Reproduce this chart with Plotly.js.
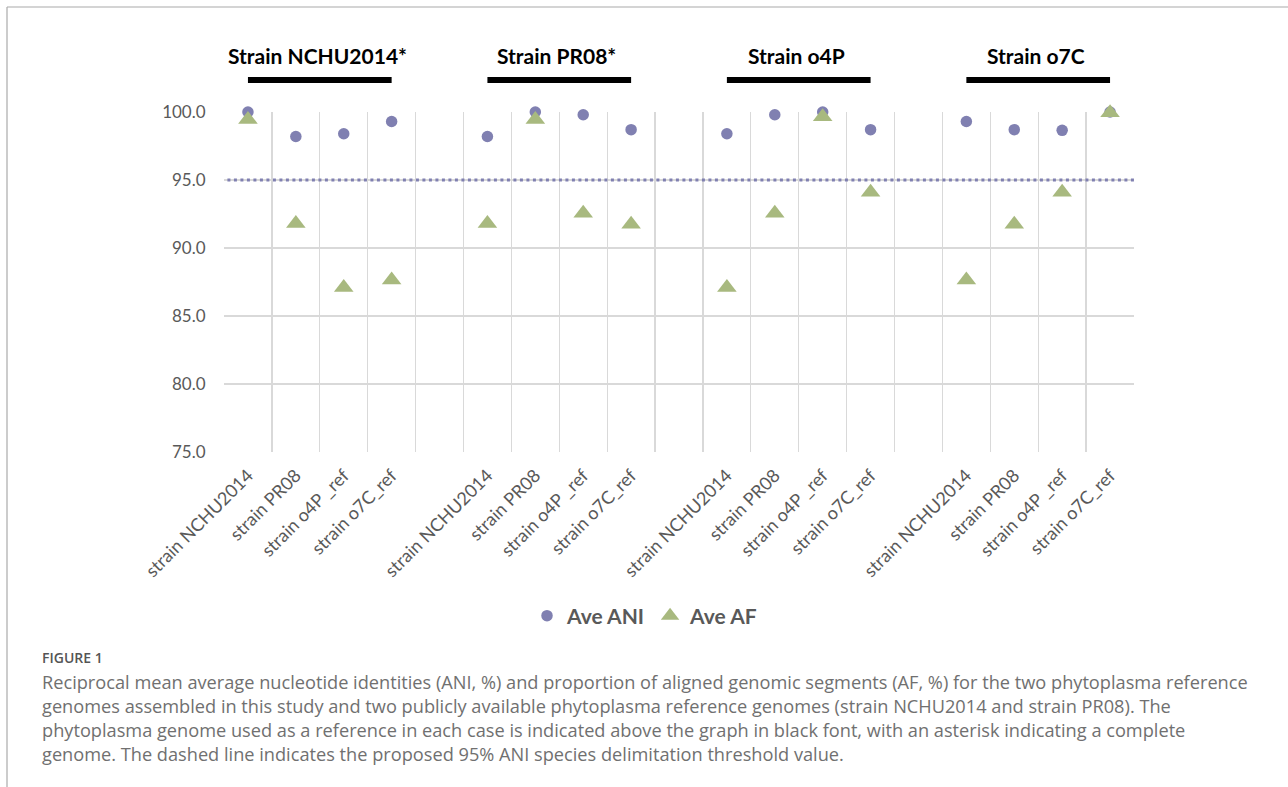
<!DOCTYPE html>
<html>
<head>
<meta charset="utf-8">
<script src="https://cdn.plot.ly/plotly-3.0.1.min.js"></script>
<style>
html,body{margin:0;padding:0;background:#fff;}
#chart{width:1288px;height:787px;}
</style>
</head>
<body>
<div id="chart"></div>
<script>
// Reference genome groups (header above each group)
const groupTitles = ["Strain NCHU2014*", "Strain PR08*", "Strain o4P", "Strain o7C"];
// Query genomes compared within each group
const queryLabels = ["strain NCHU2014", "strain PR08", "strain o4P _ref", "strain o7C_ref"];
// Ave ANI (%) per group, in query order
const aniNCHU = [100.0, 98.2, 98.4, 99.3];
const aniPR08 = [98.2, 100.0, 99.8, 98.7];
const aniO4P  = [98.4, 99.8, 100.0, 98.7];
const aniO7C  = [99.3, 98.7, 98.65, 100.0];
// Ave AF (%) per group, in query order
const afNCHU = [99.45, 91.8, 87.1, 87.65];
const afPR08 = [91.8, 99.45, 92.55, 91.75];
const afO4P  = [87.1, 92.55, 99.65, 94.1];
const afO7C  = [87.65, 91.75, 94.1, 99.95];
const threshold = 95;
const yTicks = [75, 80, 85, 90, 95, 100];

const aniGroups = [aniNCHU, aniPR08, aniO4P, aniO7C];
const afGroups = [afNCHU, afPR08, afO4P, afO7C];

// category positions: 4 per group with one empty slot between groups
const xs = [], labels = [], ani = [], af = [];
aniGroups.forEach((g, gi) => {
  g.forEach((v, qi) => {
    const x = gi * 5 + qi;
    xs.push(x); labels.push(queryLabels[qi]); ani.push(v); af.push(afGroups[gi][qi]);
  });
});
const nSlots = 19;
const boundaries = [];
for (let i = 0; i <= nSlots; i++) boundaries.push(i - 0.5);

const fontChart = "Lato, 'Open Sans', sans-serif";
const grey = "#595959";

const traces = [
  {type:'scatter', mode:'markers', name:'Ave ANI', x:xs, y:ani, cliponaxis:false,
   marker:{symbol:'circle', size:11.5, color:'#8080b1'}},
  {type:'scatter', mode:'markers', name:'Ave AF', x:xs, y:af, cliponaxis:false,
   marker:{symbol:'triangle-up', size:17, color:'#a8b97f'}}
];

const shapes = [
  {type:'line', xref:'x', yref:'y', x0:-0.7, x1:18.8, y0:threshold, y1:threshold,
   line:{color:'#8080b1', width:3, dash:'3px,3.5px'}, layer:'above'},
  // figure frame (top & left)
  {type:'line', xref:'paper', yref:'paper', x0:(7-224)/910, x1:(1290-224)/910, y0:(452-7)/340, y1:(452-7)/340,
   line:{color:'#aaaaaa', width:1.2}},
  {type:'line', xref:'paper', yref:'paper', x0:(7-224)/910, x1:(7-224)/910, y0:(452-7)/340, y1:(452-790)/340,
   line:{color:'#aaaaaa', width:1.2}}
];
const annotations = [];
groupTitles.forEach((t, gi) => {
  const x0 = gi * 5, x1 = gi * 5 + 3;
  shapes.push({type:'line', xref:'x', yref:'paper', x0:x0, x1:x1, y0:(452-80)/340, y1:(452-80)/340,
    line:{color:'#000', width:6}});
  annotations.push({xref:'x', yref:'paper', x:(x0+x1)/2 - 0.05, y:(452-56)/340, text:'<b>'+t+'</b>',
    showarrow:false, xanchor:'center', yanchor:'middle',
    font:{family:fontChart, size:21, color:'#000'}});
});

const capFont = "'Open Sans', 'Noto Sans', sans-serif";
const capX = (40-224)/910;
annotations.push({xref:'paper', yref:'paper', x:capX, y:(452-657)/340, xanchor:'left', yanchor:'middle',
  showarrow:false, text:'FIGURE 1', font:{family:capFont, size:14, color:'#555555', weight:600}});
const capLines = [
  "Reciprocal mean average nucleotide identities (ANI, %) and proportion of aligned genomic segments (AF, %) for the two phytoplasma reference",
  "genomes assembled in this study and two publicly available phytoplasma reference genomes (strain NCHU2014 and strain PR08). The",
  "phytoplasma genome used as a reference in each case is indicated above the graph in black font, with an asterisk indicating a complete",
  "genome. The dashed line indicates the proposed 95% ANI species delimitation threshold value."
];
capLines.forEach((l, i) => {
  annotations.push({xref:'paper', yref:'paper', x:capX, y:(452-(682+24*i))/340, xanchor:'left', yanchor:'middle',
    showarrow:false, text:l, font:{family:capFont, size:18.2, color:'#707070'}});
});

const layout = {
  width:1288, height:787,
  margin:{l:224, r:154, t:112, b:335},
  paper_bgcolor:'#fff', plot_bgcolor:'#fff',
  showlegend:true,
  legend:{orientation:'h', x:(645-224)/910, xanchor:'center', y:(452-616)/340, yanchor:'middle',
    font:{family:fontChart, size:21, color:grey, weight:'bold'}},
  xaxis:{range:[-0.5, 18.5], tickmode:'array', tickvals:xs, ticktext:labels, tickangle:-45,
    showgrid:false, zeroline:false, showline:false, ticks:'outside', ticklen:5, tickcolor:'rgba(0,0,0,0)',
    tickfont:{family:fontChart, size:18, color:grey},
    minor:{tickmode:'array', tickvals:boundaries, showgrid:true, gridcolor:'#d9d9d9', gridwidth:1.3, ticks:''}},
  yaxis:{range:[75, 100], tickmode:'array', tickvals:yTicks, tickformat:'.1f',
    showgrid:true, gridcolor:'#d9d9d9', gridwidth:1.3, zeroline:false, showline:false,
    ticks:'outside', ticklen:14, tickcolor:'rgba(0,0,0,0)',
    tickfont:{family:fontChart, size:17, color:grey}},
  shapes:shapes,
  annotations:annotations
};
Plotly.newPlot('chart', traces, layout, {displayModeBar:false, staticPlot:true});
</script>
</body>
</html>
